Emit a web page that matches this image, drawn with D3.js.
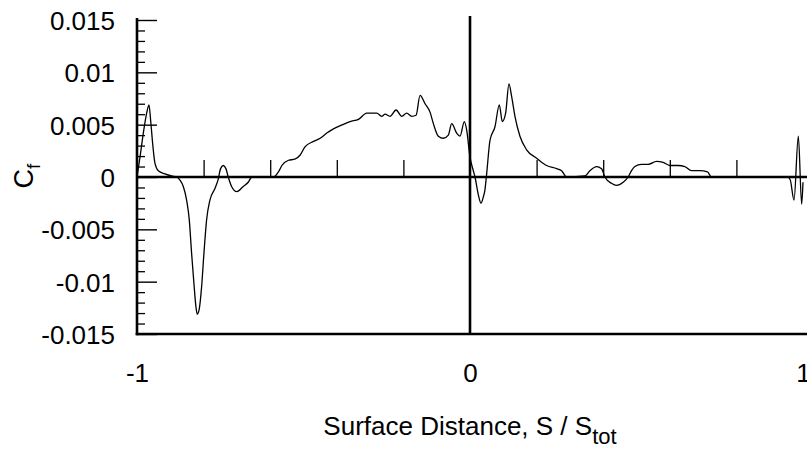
<!DOCTYPE html>
<html>
<head>
<meta charset="utf-8">
<script src="https://cdn.jsdelivr.net/npm/d3@7"></script>
<style>
  html, body { margin: 0; padding: 0; background: #fff; }
  svg { display: block; }
  text { font-family: "Liberation Sans", Arial, sans-serif; fill: #000; }
</style>
</head>
<body>
<svg id="chart" width="807" height="454"></svg>
<script>
// ---- Data ----
const surfaceDistance = [
  -1.0, -0.991, -0.981, -0.971, -0.964, -0.959, -0.953, -0.946, -0.936, -0.916, -0.896, -0.88,
  -0.871, -0.861, -0.851, -0.843, -0.836, -0.829, -0.823, -0.819, -0.813, -0.806, -0.799, -0.791, -0.781, -0.766, -0.756,
  -0.749, -0.741, -0.733, -0.726, -0.716, -0.70, -0.681, -0.666, -0.655, -0.62, -0.59,
  -0.575, -0.565, -0.545, -0.526, -0.51, -0.495, -0.47, -0.45, -0.43, -0.41, -0.39, -0.375, -0.36, -0.335,
  -0.31, -0.28, -0.265, -0.255, -0.24, -0.222, -0.205, -0.19, -0.175, -0.162, -0.15, -0.135, -0.12, -0.11,
  -0.095, -0.08, -0.065, -0.055, -0.04, -0.03, -0.017, -0.01, 0.0, 0.01, 0.015, 0.025, 0.033, 0.04, 0.045,
  0.05, 0.06, 0.075, 0.088, 0.097, 0.107, 0.117, 0.125, 0.135, 0.15, 0.17, 0.2, 0.23, 0.26, 0.275, 0.29,
  0.345, 0.36, 0.38, 0.395, 0.405, 0.425, 0.44, 0.46, 0.475, 0.485, 0.495, 0.515, 0.535, 0.56, 0.58, 0.6,
  0.625, 0.645, 0.665, 0.69, 0.713, 0.725, 0.955, 0.962, 0.973, 0.986, 0.996, 1.0
];
const skinFriction = [
  0.0, 0.0019, 0.0042, 0.0061, 0.0069, 0.0054, 0.0032, 0.0013, 0.0006, 0.0003, 0.0001, 0.0,
  -0.0003, -0.0009, -0.0022, -0.0041, -0.0073, -0.0102, -0.0124, -0.0131, -0.0126, -0.0105, -0.0073, -0.0041, -0.0022, -0.0011, -0.0002,
  0.0008, 0.0011, 0.0008, 0.0, -0.0009, -0.0014, -0.0009, -0.0005, 0.0, 0.0, 0.0,
  0.0005, 0.0011, 0.0016, 0.0017, 0.0021, 0.0029, 0.0034, 0.0037, 0.0042, 0.0046, 0.0049, 0.0051, 0.0053, 0.0055,
  0.0061, 0.0061, 0.0058, 0.006, 0.0058, 0.0064, 0.0058, 0.0061, 0.0058, 0.0059, 0.0078, 0.007, 0.0062, 0.0051,
  0.0039, 0.0037, 0.004, 0.0051, 0.0042, 0.0039, 0.0053, 0.0045, 0.0019, 0.0006, 0.0, -0.0017, -0.0025, -0.0019, -0.0012,
  0.0003, 0.0035, 0.0048, 0.0069, 0.0053, 0.0061, 0.0089, 0.0077, 0.0058, 0.0039, 0.0026, 0.0018, 0.0011, 0.0008, 0.0006, 0.0,
  0.0001, 0.0006, 0.001, 0.0008, 0.0, -0.0006, -0.0008, -0.0005, 0.0, 0.0006, 0.001, 0.0012, 0.0012, 0.0015, 0.0014, 0.0011,
  0.0011, 0.001, 0.0006, 0.0006, 0.0005, 0.0, 0.0, -0.0003, -0.0022, 0.0039, -0.0026, -0.0005
];
const yMajorTicks = [0.015, 0.01, 0.005, 0, -0.005, -0.01, -0.015];
const yTickLabels = ["0.015", "0.01", "0.005", "0", "-0.005", "-0.01", "-0.015"];
const yMinorTicks = d3.range(-15, 16).filter(v => v % 5 !== 0).map(v => v / 1000);
const xTickValues = [-1, 0, 1];
const xTickLabels = ["-1", "0", "1"];
const xInnerTicks = [-0.8, -0.6, -0.4, -0.2, 0.2, 0.4, 0.6, 0.8];

// ---- Chart ----
const svg = d3.select("#chart");
const x = d3.scaleLinear().domain([-1, 1]).range([137, 803]);
const y = d3.scaleLinear().domain([-0.015, 0.015]).range([334, 20]);
const W = 807;

// Left axis: major ticks with labels, inward ticks
const yMajor = svg.append("g").attr("transform", `translate(${x(-1)},0)`)
  .call(d3.axisLeft(y).tickValues(yMajorTicks)
    .tickFormat((d, i) => yTickLabels[i])
    .tickSizeInner(-20).tickSizeOuter(0).tickPadding(22));
yMajor.select(".domain").remove();
yMajor.selectAll("line").attr("stroke", "#000").attr("stroke-width", 1.4);
yMajor.selectAll("text").attr("font-size", 26).attr("dy", "0.36em");

const yMinor = svg.append("g").attr("transform", `translate(${x(-1)},0)`)
  .call(d3.axisLeft(y).tickValues(yMinorTicks).tickFormat("")
    .tickSizeInner(-8).tickSizeOuter(0));
yMinor.select(".domain").remove();
yMinor.selectAll("line").attr("stroke", "#000").attr("stroke-width", 1.3);

// Bottom labels
const xAxis = svg.append("g").attr("transform", `translate(0,${y(-0.015)})`)
  .call(d3.axisBottom(x).tickValues(xTickValues)
    .tickFormat((d, i) => xTickLabels[i]).tickSize(0).tickPadding(30));
xAxis.select(".domain").remove();
xAxis.selectAll("text").attr("font-size", 26);

// Ticks on zero line pointing upward
const zeroTicks = svg.append("g").attr("transform", `translate(0,${y(0)})`)
  .call(d3.axisBottom(x).tickValues(xInnerTicks).tickFormat("")
    .tickSizeInner(-17).tickSizeOuter(0));
zeroTicks.select(".domain").remove();
zeroTicks.selectAll("line").attr("stroke", "#000").attr("stroke-width", 1.3);

// Frame lines
const lw = 2.6;
svg.append("line").attr("x1", x(-1)).attr("x2", x(-1)).attr("y1", 18).attr("y2", y(-0.015) + lw / 2)
  .attr("stroke", "#000").attr("stroke-width", lw);
svg.append("line").attr("x1", x(-1) - lw / 2).attr("x2", W).attr("y1", y(-0.015)).attr("y2", y(-0.015))
  .attr("stroke", "#000").attr("stroke-width", lw);
svg.append("line").attr("x1", x(-1)).attr("x2", W).attr("y1", y(0)).attr("y2", y(0))
  .attr("stroke", "#000").attr("stroke-width", lw);
svg.append("line").attr("x1", x(0)).attr("x2", x(0)).attr("y1", 16).attr("y2", y(-0.015))
  .attr("stroke", "#000").attr("stroke-width", lw);

// Data curve
const pts = surfaceDistance.map((s, i) => [s, skinFriction[i]]);
svg.append("path").datum(pts)
  .attr("fill", "none").attr("stroke", "#000").attr("stroke-width", 1.3)
  .attr("d", d3.line().x(d => x(d[0])).y(d => y(d[1])).curve(d3.curveMonotoneX));

// Axis titles
const xt = svg.append("text").attr("x", x(0)).attr("y", 435)
  .attr("text-anchor", "middle").attr("font-size", 26);
xt.append("tspan").text("Surface Distance, S / S");
xt.append("tspan").attr("font-size", 22).attr("dy", 9).text("tot");

const yt = svg.append("text").attr("transform", "translate(33,176) rotate(-90)")
  .attr("text-anchor", "middle").attr("font-size", 27);
yt.append("tspan").text("C");
yt.append("tspan").attr("font-size", 19).attr("dy", 7).text("f");
</script>
</body>
</html>
